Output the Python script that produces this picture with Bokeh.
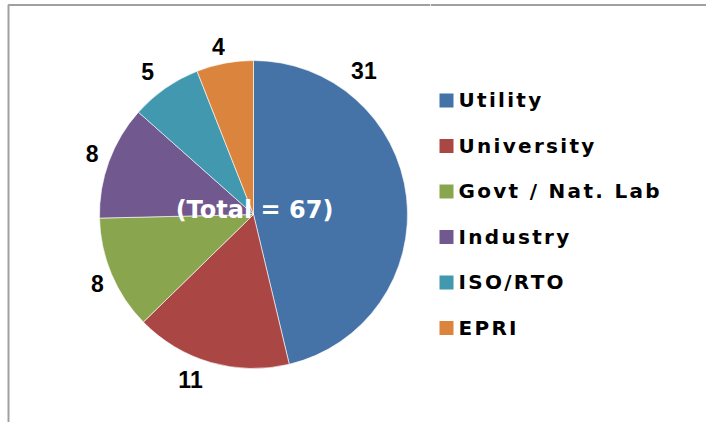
import numpy as np
from bokeh.plotting import figure
from bokeh.layouts import row
from bokeh.models import InlineStyleSheet
from bokeh.core.properties import value
from bokeh.embed import file_html
from bokeh.resources import INLINE

# ---- data ----
categories = ["Utility", "University", "Govt / Nat. Lab", "Industry", "ISO/RTO", "EPRI"]
counts = [31, 11, 8, 8, 5, 4]
colors = ["#4572A7", "#AA4643", "#89A54E", "#71588F", "#4198AF", "#DB843D"]

# ---- layout (page pixel coordinates; y data = -pixel y) ----
W, H, SPLIT = 706, 422, 430
CX, CY, R = 253, -214, 154
# label placement: offset (deg) from slice mid-angle and distance from centre (Excel best fit)
LABEL_DANG = [45.7, -4.6, 1.3, -0.2, 1.8, 1.1]
LABEL_R = [181, 178, 171, 172, 177, 171]
LEG_X, LEG_Y0, LEG_DY, LEG_SQ = 446, 100, 45.5, 14
FONT = "DejaVu Sans"
NUM_FONT = "Liberation Sans"
FRAME = "#A0A0A0"


def base_fig(x0, x1):
    f = figure(width=x1 - x0, height=H, x_range=(x0, x1), y_range=(-H, 0),
               output_backend="svg", toolbar_location=None, min_border=0)
    f.axis.visible = False
    f.xgrid.visible = False
    f.ygrid.visible = False
    f.outline_line_color = None
    f.background_fill_color = "white"
    f.border_fill_color = "white"
    return f


# ---------- pie ----------
p = base_fig(0, SPLIT)
vals = np.array(counts, dtype=float)
total = vals.sum()
frac = vals / total
cum = np.concatenate([[0], np.cumsum(frac)])
start = np.pi / 2 - 2 * np.pi * cum[:-1]
end = np.pi / 2 - 2 * np.pi * cum[1:]

p.wedge(x=CX, y=CY, radius=R, start_angle=start, end_angle=end, direction="clock",
        fill_color=colors, line_color="white", line_width=0.6)

mid = (start + end) / 2
ang = mid + np.deg2rad(LABEL_DANG)
lx = CX + np.array(LABEL_R) * np.cos(ang)
ly = CY + np.array(LABEL_R) * np.sin(ang) + 1
p.text(x=lx, y=ly, text=[str(c) for c in counts], text_align="center",
       text_baseline="middle", text_font=value(NUM_FONT), text_font_style="bold",
       text_font_size="23px", text_color="black")

p.text(x=[CX + 1], y=[CY + 5], text=[f"(Total = {int(total)})"], text_align="center",
       text_baseline="middle", text_font=value(FONT), text_font_style="bold",
       text_font_size="24px", text_color="white")

p.line(x=[8, 8, SPLIT], y=[-H, -4.5, -4.5], line_color=FRAME, line_width=2)

# ---------- legend ----------
lg = base_fig(SPLIT, W)
lg.stylesheets = [InlineStyleSheet(css=":host { letter-spacing: 2.3px; } text { letter-spacing: 2.3px; }")]
ys = [-(LEG_Y0 + i * LEG_DY) for i in range(len(categories))]
lg.rect(x=[LEG_X] * len(categories), y=ys, width=LEG_SQ, height=LEG_SQ,
        fill_color=colors, line_color=None)
lg.text(x=[LEG_X + 12] * len(categories), y=[y + 0.5 for y in ys], text=categories,
        text_align="left", text_baseline="alphabetic", text_font=value(FONT),
        text_font_style="bold", text_font_size="20px", text_color="black")
lg.line(x=[SPLIT, W], y=[-4.5, -4.5], line_color=FRAME, line_width=2)

layout = row(p, lg, spacing=0)
open("out.html", "w").write(file_html(layout, INLINE))
